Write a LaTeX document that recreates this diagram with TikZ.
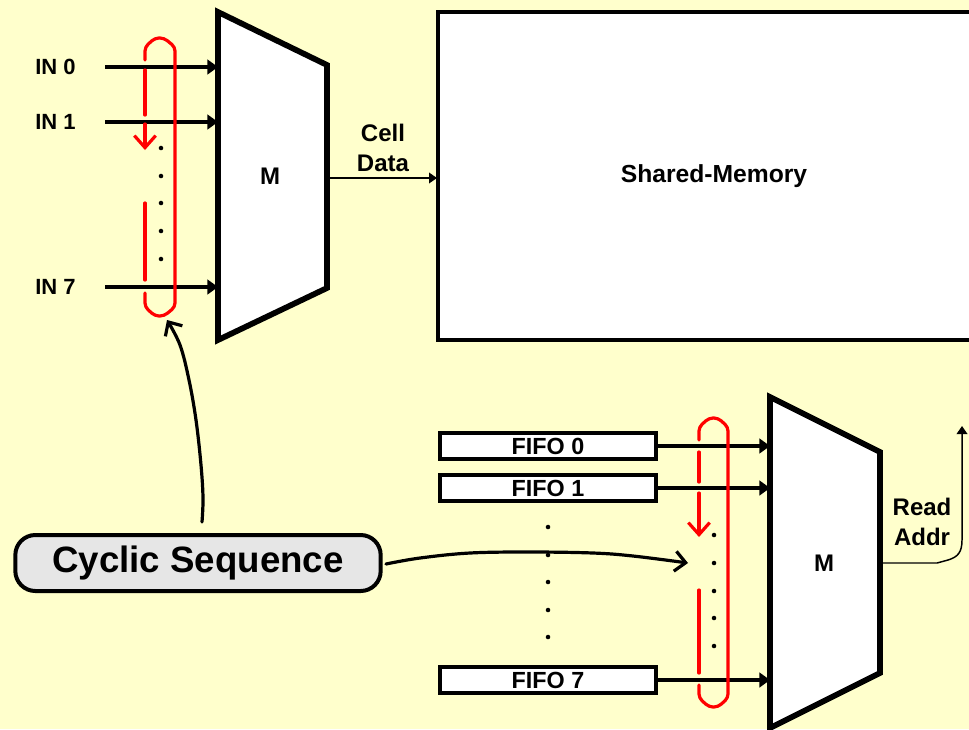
\documentclass[tikz,border=0pt]{standalone}
\usepackage{fontspec}
\setmainfont{Liberation Sans}
\usetikzlibrary{arrows.meta}
\definecolor{paper}{HTML}{FFFFCC}
\definecolor{seqred}{HTML}{FF0000}
\definecolor{pillgray}{HTML}{E6E6E6}

\begin{document}
\begin{tikzpicture}[x=0.75pt,y=-0.75pt,
  lbl/.style={font=\fontsize{18}{22}\selectfont\bfseries, inner sep=0pt, align=center},
  inlbl/.style={font=\fontsize{16.5}{20}\selectfont\bfseries, inner sep=0pt, anchor=west},
  sig/.style={line width=2.4pt, -{Triangle[length=8pt,width=11pt]}},
  thinsig/.style={line width=1.1pt, -{Triangle[length=6pt,width=8pt]}},
  muxbox/.style={draw, fill=white, line width=4.3pt, line join=miter},
  membox/.style={draw, fill=white, line width=3.6pt},
  fifobox/.style={draw, fill=white, line width=3pt, minimum width=162pt, minimum height=19pt,
    inner sep=0pt, font=\fontsize{17.5}{20}\selectfont\bfseries},
  pill/.style={draw, fill=pillgray, line width=3pt, rounded corners=15pt, minimum width=274pt,
    minimum height=42pt, inner sep=0pt, font=\fontsize{27.5}{32}\selectfont\bfseries},
  capsule/.style={draw=seqred, line width=2.4pt, rounded corners=3pt, line cap=round},
  seqdash/.style={draw=seqred, line width=2.4pt, line cap=round},
  seqarrow/.style={seqdash, -{Straight Barb[length=9pt,width=16pt,line width=2.4pt]}},
  pointer/.style={line width=2.4pt, line cap=round, line join=round,
    -{Straight Barb[length=8pt,width=15pt,line width=2.4pt]}},
  dot/.style={fill=black}
]
\useasboundingbox (0,0) rectangle (969,729);
\fill[paper] (0,0) rectangle (969,729);
\clip (0,0) rectangle (969,729);

% ---------- upper multiplexer and shared memory ----------
\coordinate (m1tl) at (218,12);
\coordinate (m1tr) at (327,65);
\coordinate (m1br) at (327,288);
\coordinate (m1bl) at (218,340);
\draw[muxbox] (m1tl) -- (m1tr) -- (m1br) -- (m1bl) -- cycle;
\node[lbl] (m1) at (270,176) {M};

\draw[membox] (438,12) rectangle (1010,340);
\coordinate (memin) at (437,178);
\node[lbl, font=\fontsize{18.5}{22}\selectfont\bfseries] (mem) at (714,176) {Shared-Memory};

\coordinate (m1out) at (329,178);
\draw[thinsig] (m1out) -- (memin);
\node[lbl] (celldata) at (383,148) {Cell\\Data};

% inputs
\node[inlbl] (in0) at (35,67) {IN 0};
\node[inlbl] (in1) at (35,122) {IN 1};
\node[inlbl] (in7) at (35,287) {IN 7};
\coordinate (in0s) at (105,67);
\coordinate (in1s) at (105,122);
\coordinate (in7s) at (105,287);
\draw[sig] (in0s) -- (in0s -| m1tl);
\draw[sig] (in1s) -- (in1s -| m1tl);
\draw[sig] (in7s) -- (in7s -| m1tl);

\foreach \yy in {148,176,203,231,259}
  \fill[dot] (161,\yy) circle[radius=1.7pt];

% red selection capsule (upper)
\draw[capsule] (145,60) -- (145,47) -- (155,38) -- (164,38) -- (175,47)
  -- (175,307) -- (164,316) -- (155,316) -- (145,307) -- (145,293);
\draw[seqdash] (145,70) -- (145,115);
\draw[seqarrow] (145,124) -- (145,150);
\draw[seqdash] (145,203) -- (145,280);

% ---------- lower multiplexer and FIFOs ----------
\coordinate (m2tl) at (770,397);
\coordinate (m2tr) at (880,452);
\coordinate (m2br) at (880,673);
\coordinate (m2bl) at (770,728);
\draw[muxbox] (m2tl) -- (m2tr) -- (m2br) -- (m2bl) -- cycle;
\node[lbl] (m2) at (824,563) {M};

\node[fifobox] (f0) at (548,446) {FIFO 0};
\node[fifobox] (f1) at (548,488) {FIFO 1};
\node[fifobox] (f7) at (548,680) {FIFO 7};
\draw[sig] (f0.east) -- (f0.east -| m2tl);
\draw[sig] (f1.east) -- (f1.east -| m2tl);
\draw[sig] (f7.east) -- (f7.east -| m2tl);

\foreach \yy in {527,555,582,610,637}
  \fill[dot] (548,\yy) circle[radius=1.7pt];
\foreach \yy in {535,563,591,618,646}
  \fill[dot] (714,\yy) circle[radius=1.7pt];

% red selection capsule (lower)
\draw[capsule] (699,440) -- (699,427) -- (709,418) -- (718,418) -- (728,427)
  -- (728,698) -- (718,707) -- (709,707) -- (699,698) -- (699,685);
\draw[seqdash] (699,452) -- (699,482);
\draw[seqarrow] (699,493) -- (699,537);
\draw[seqdash] (699,590) -- (699,673);

% read address output
\coordinate (m2out) at (882,563);
\coordinate (rdtop) at (962,426);
\draw[thinsig] (m2out) -- (937,563) -- (948,560)
  .. controls (958,557) and (962,552) .. (962,540) -- (rdtop);
\node[lbl] (readaddr) at (922,522) {Read\\Addr};

% ---------- cyclic sequence control ----------
\node[pill] (cyc) at (198,563) {Cyclic Sequence};
\coordinate (cycup) at (202,522);
\coordinate (capA) at (167,320);
\coordinate (cycright) at (386,564);
\coordinate (capB) at (688,563);
\draw[pointer] plot[smooth, tension=0.6] coordinates
  {(cycup) (203,498) (201,465) (196,420) (189,380) (180,345) (capA)};
\draw[pointer] plot[smooth, tension=0.6] coordinates
  {(cycright) (420,558) (470,553) (530,552) (593,553) (633,556) (capB)};
\end{tikzpicture}
\end{document}
